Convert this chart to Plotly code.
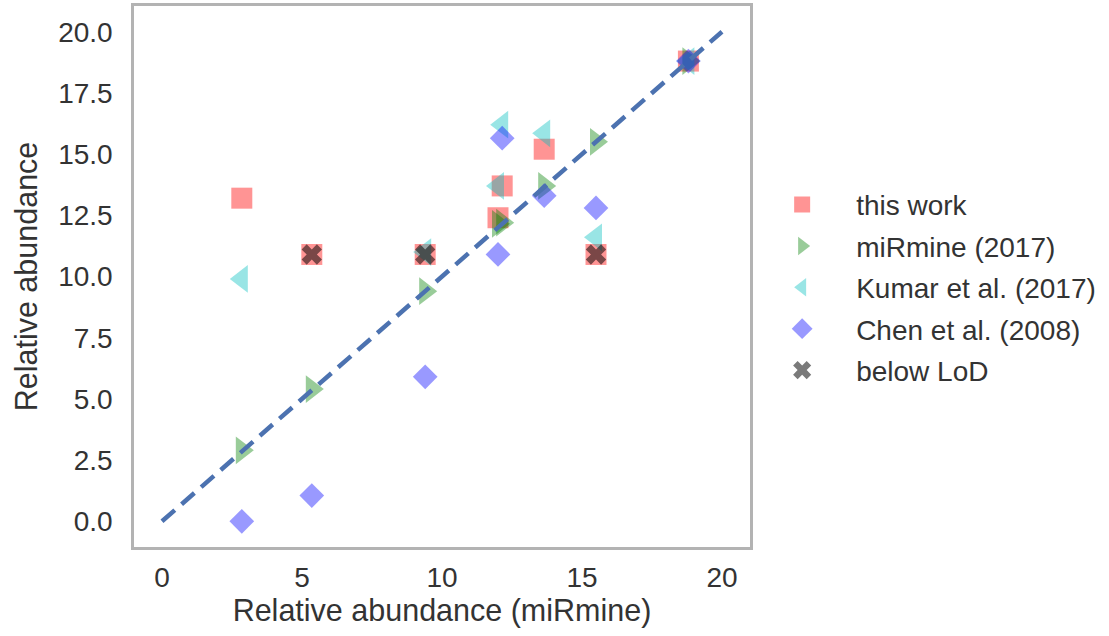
import plotly.graph_objects as go

# Data
mirmine_x = [2.85, 5.35, 9.4, 12.0, 12.15, 13.65, 15.5, 18.8]
this_work = [13.2, 10.9, 10.9, 12.4, 13.7, 15.2, 10.9, 18.8]
mirmine = [2.9, 5.4, 9.4, 12.15, 12.2, 13.7, 15.5, 18.8]
kumar = [9.9, None, 11.0, 13.7, 16.2, 15.85, 11.6, 18.8]
chen = [0.0, 1.05, 5.9, 10.9, 15.65, 13.3, 12.8, 18.8]
lod_x = [5.35, 9.4, 15.5]
lod_y = [10.9, 10.9, 10.9]
diag = [0, 20]

series_names = ["this work", "miRmine (2017)", "Kumar et al. (2017)", "Chen et al. (2008)", "below LoD"]
x_ticks = [0, 5, 10, 15, 20]
y_ticks = [0, 2.5, 5, 7.5, 10, 12.5, 15, 17.5, 20]

FONT = "Liberation Sans, Arial, sans-serif"
TXT = "#333333"

fig = go.Figure()
fig.add_trace(go.Scatter(x=mirmine_x, y=this_work, mode="markers", name=series_names[0], legendgroup="g0",
                         marker=dict(symbol="square", size=21, color="rgba(255,0,0,0.42)", line=dict(width=0))))
fig.add_trace(go.Scatter(x=mirmine_x, y=mirmine, mode="markers", name=series_names[1], legendgroup="g1",
                         marker=dict(symbol="triangle-right", size=24, color="rgba(0,128,0,0.4)", line=dict(width=0))))
fig.add_trace(go.Scatter(x=mirmine_x, y=kumar, mode="markers", name=series_names[2], legendgroup="g2",
                         marker=dict(symbol="triangle-left", size=24, color="rgba(0,191,191,0.4)", line=dict(width=0))))
fig.add_trace(go.Scatter(x=mirmine_x, y=chen, mode="markers", name=series_names[3], legendgroup="g3",
                         marker=dict(symbol="diamond", size=19, color="rgba(0,0,255,0.4)", line=dict(width=0))))
fig.add_trace(go.Scatter(x=lod_x, y=lod_y, mode="markers", name=series_names[4], legendgroup="g4",
                         marker=dict(symbol="x", size=18, color="rgba(0,0,0,0.52)", line=dict(width=0))))
fig.add_trace(go.Scatter(x=diag, y=diag, mode="lines", showlegend=False, hoverinfo="skip",
                         line=dict(color="#4C72B0", width=4.5, dash="17px,9px")))

axis_common = dict(showgrid=False, zeroline=False, showline=True, mirror=True,
                   linecolor="#b3b3b3", linewidth=2.5, ticks="", automargin=False,
                   tickfont=dict(family=FONT, size=28, color=TXT))

fig.update_xaxes(range=[-1, 21], tickvals=x_ticks, ticktext=[str(v) for v in x_ticks],
                 ticklabelstandoff=4,
                 title=dict(text="Relative abundance (miRmine)", font=dict(family=FONT, size=30.5, color=TXT), standoff=2),
                 **axis_common)
fig.update_yaxes(range=[-1.05, 21.05], tickvals=y_ticks, ticktext=[f"{v:.1f}" for v in y_ticks],
                 ticklabelstandoff=13,
                 title=dict(text="Relative abundance", font=dict(family=FONT, size=30.5, color=TXT), standoff=12),
                 **axis_common)

fig.update_layout(
    width=1109, height=636,
    margin=dict(l=134, r=359, t=6, b=89, autoexpand=False),
    paper_bgcolor="white", plot_bgcolor="white",
    legend=dict(x=0.997, xanchor="left", y=0.48, yanchor="middle",
                font=dict(family=FONT, size=28, color=TXT), tracegroupgap=2,
                itemwidth=98, bgcolor="rgba(0,0,0,0)", borderwidth=0),
)

fig.write_html("out.html", config={"displayModeBar": False},
               post_script="document.body.style.margin='0px';")
